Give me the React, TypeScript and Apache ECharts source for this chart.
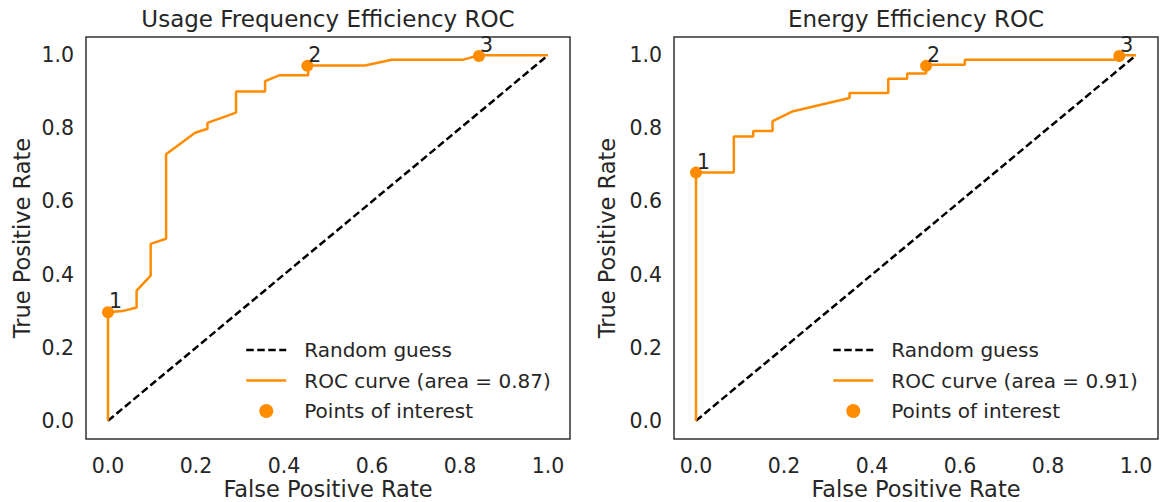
import React, { useEffect, useRef } from "react";
import * as echarts from "echarts";

const FONT = "DejaVu Sans";
const TEXT = "#262626";
const ORANGE = "#FF8C00";

// Tick labels shared by both axes of both panels
const tickValues = [0, 0.2, 0.4, 0.6, 0.8, 1.0];

const titles = ["Usage Frequency Efficiency ROC", "Energy Efficiency ROC"];
const rocNames = ["ROC curve (area = 0.87)", "ROC curve (area = 0.91)"];
const guessName = "Random guess";
const pointsName = "Points of interest";

// Chance line
const diagonal = [
  [0, 0],
  [1, 1],
];

// Usage frequency ROC curve: [FPR, TPR]
const usageRoc = [
  [0, 0],
  [0, 0.297],
  [0.033, 0.3],
  [0.065, 0.31],
  [0.065, 0.356],
  [0.097, 0.397],
  [0.097, 0.484],
  [0.132, 0.498],
  [0.132, 0.729],
  [0.198, 0.788],
  [0.226, 0.799],
  [0.226, 0.815],
  [0.291, 0.843],
  [0.291, 0.901],
  [0.357, 0.901],
  [0.357, 0.929],
  [0.389, 0.945],
  [0.455, 0.945],
  [0.455, 0.972],
  [0.584, 0.972],
  [0.645, 0.988],
  [0.808, 0.988],
  [0.843, 1.0],
  [1.0, 1.0],
];
const usagePoints = [
  [0, 0.297],
  [0.453, 0.971],
  [0.843, 0.998],
];

// Energy efficiency ROC curve: [FPR, TPR]
const energyRoc = [
  [0, 0],
  [0, 0.679],
  [0.086, 0.679],
  [0.086, 0.778],
  [0.13, 0.778],
  [0.13, 0.793],
  [0.174, 0.793],
  [0.174, 0.82],
  [0.221, 0.847],
  [0.349, 0.883],
  [0.349, 0.897],
  [0.437, 0.897],
  [0.437, 0.936],
  [0.48, 0.936],
  [0.48, 0.95],
  [0.523, 0.95],
  [0.523, 0.974],
  [0.611, 0.974],
  [0.611, 0.988],
  [0.962, 0.988],
  [0.962, 1.0],
  [1.0, 1.0],
];
const energyPoints = [
  [0, 0.679],
  [0.523, 0.971],
  [0.962, 0.998],
];

const pointLabels = ["1", "2", "3"];

const gridLefts = [86, 674];
const gridWidth = 484;

function buildOption() {
  const grids = gridLefts.map((left) => ({
    left,
    top: 37,
    width: gridWidth,
    height: 402,
    outerBoundsMode: "none",
    containLabel: false,
    show: true,
    borderColor: "#333333",
    borderWidth: 1.5,
    backgroundColor: "#ffffff",
  }));

  const xAxes = gridLefts.map((_, i) => ({
    type: "value",
    gridIndex: i,
    min: -0.05,
    max: 1.05,
    name: "False Positive Rate",
    nameLocation: "middle",
    nameGap: 39,
    nameMoveOverlap: false,
    nameTextStyle: {
      fontFamily: FONT,
      fontSize: 22.5,
      lineHeight: 22,
      verticalAlign: "top",
      color: TEXT,
    },
    axisLine: { show: false },
    axisTick: { show: false },
    splitLine: { show: false },
    axisLabel: {
      customValues: tickValues,
      formatter: (v: number) => v.toFixed(1),
      fontFamily: FONT,
      fontSize: 20.5,
      lineHeight: 20,
      color: TEXT,
      margin: 17,
    },
  }));

  const yAxes = gridLefts.map((_, i) => ({
    type: "value",
    gridIndex: i,
    min: -0.05,
    max: 1.05,
    name: "True Positive Rate",
    nameLocation: "middle",
    nameGap: i === 0 ? 53 : 56,
    nameTextStyle: { fontFamily: FONT, fontSize: 22.5, color: TEXT },
    axisLine: { show: false },
    axisTick: { show: false },
    splitLine: { show: false },
    axisLabel: {
      customValues: tickValues,
      formatter: (v: number) => v.toFixed(1),
      fontFamily: FONT,
      fontSize: 20.5,
      color: TEXT,
      margin: 12,
    },
  }));

  const curves = [usageRoc, energyRoc];
  const points = [usagePoints, energyPoints];
  const series: any[] = [];
  gridLefts.forEach((_, i) => {
    series.push({
      name: guessName,
      type: "line",
      xAxisIndex: i,
      yAxisIndex: i,
      data: diagonal,
      symbol: "none",
      lineStyle: { color: "#000000", width: 2.5, type: [7.5, 3.5] },
      itemStyle: { color: "#000000" },
      z: 2,
    });
    series.push({
      name: rocNames[i],
      type: "line",
      xAxisIndex: i,
      yAxisIndex: i,
      data: curves[i],
      symbol: "none",
      lineStyle: { color: ORANGE, width: 2.5 },
      itemStyle: { color: ORANGE },
      z: 3,
    });
    series.push({
      name: pointsName,
      type: "scatter",
      xAxisIndex: i,
      yAxisIndex: i,
      data: points[i],
      symbol: "circle",
      symbolSize: 12,
      itemStyle: { color: ORANGE, opacity: 1 },
      z: 4,
      label: {
        show: true,
        position: "right",
        distance: 0,
        offset: [-5, -11],
        formatter: (p: any) => pointLabels[p.dataIndex],
        fontFamily: FONT,
        fontSize: 20.5,
        color: TEXT,
      },
    });
  });

  // Line entries show only their stroke; the marker entry shows a filled dot
  const hideMarker = { opacity: 0 };
  const legends = [245, 832].map((left, i) => ({
    left,
    top: 340,
    orient: "vertical",
    padding: 0,
    itemGap: 10.5,
    itemWidth: 40,
    itemHeight: 14,
    selectedMode: false,
    textStyle: {
      fontFamily: FONT,
      fontSize: 20,
      color: TEXT,
      lineHeight: 20,
      padding: [0, 0, 0, 13],
    },
    data: [
      { name: guessName, itemStyle: hideMarker, lineStyle: { width: 2.5 } },
      { name: rocNames[i], itemStyle: hideMarker, lineStyle: { width: 2.5 } },
      { name: pointsName, itemStyle: { opacity: 1 } },
    ],
  }));

  const titleCenters = gridLefts.map((l) => l + gridWidth / 2);
  const titleOpts = titles.map((text, i) => ({
    text,
    left: titleCenters[i],
    top: 7,
    textAlign: "center",
    padding: 0,
    textStyle: { fontFamily: FONT, fontSize: 23, fontWeight: "normal", color: TEXT },
  }));

  return {
    animation: false,
    backgroundColor: "#ffffff",
    title: titleOpts,
    grid: grids,
    xAxis: xAxes,
    yAxis: yAxes,
    legend: legends,
    series,
  };
}

export default function App() {
  const ref = useRef<HTMLDivElement>(null);

  useEffect(() => {
    if (!ref.current) return;
    const chart = echarts.init(ref.current, undefined, { renderer: "svg" });
    chart.setOption(buildOption() as any);
    return () => chart.dispose();
  }, []);

  return (
    <div
      ref={ref}
      style={{ position: "fixed", left: 0, top: 0, width: 1162, height: 502, background: "#ffffff" }}
    />
  );
}
